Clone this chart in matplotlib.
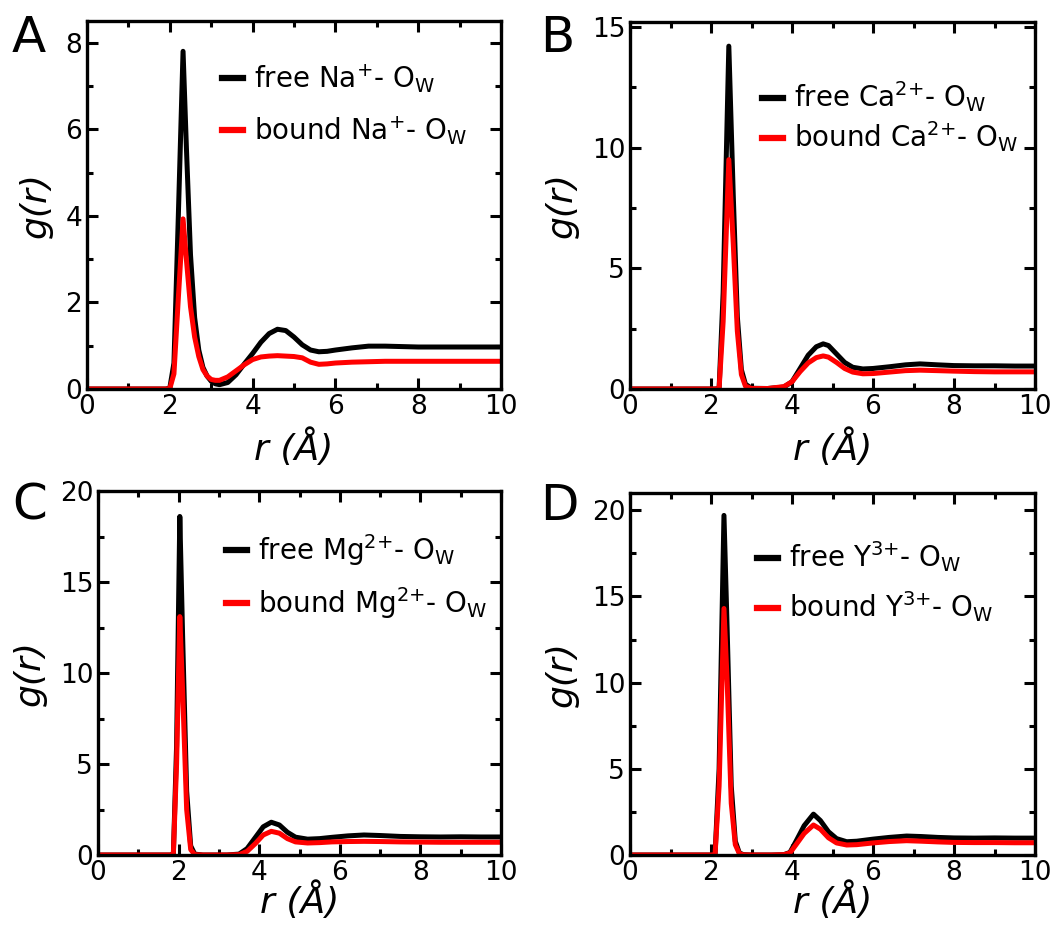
import matplotlib
matplotlib.use("Agg")
import matplotlib.pyplot as plt
from matplotlib.ticker import MultipleLocator

plt.rcParams['font.family'] = ['DejaVu Sans']
plt.rcParams['mathtext.default'] = 'regular'

# ---------------- data ----------------
# Panel A: Na+
rA = [0.0, 1.9, 2.0, 2.1, 2.2, 2.32, 2.4, 2.5, 2.6, 2.7, 2.8, 2.9, 3.0, 3.1, 3.2, 3.4, 3.6, 3.8,
      4.0, 4.2, 4.4, 4.6, 4.8, 5.0, 5.2, 5.4, 5.6, 5.8, 6.0, 6.4, 6.8, 7.2, 7.6, 8.0, 8.5, 9.0, 9.5, 10.0]
gA_free = [0.0, 0.0, 0.02, 0.6, 3.8, 7.8, 5.6, 3.1, 1.65, 0.9, 0.5, 0.3, 0.18, 0.12, 0.1, 0.15, 0.33, 0.58,
           0.82, 1.08, 1.28, 1.38, 1.35, 1.2, 1.02, 0.9, 0.86, 0.87, 0.9, 0.95, 0.99, 0.99, 0.98, 0.97, 0.97, 0.97, 0.97, 0.97]
gA_bound = [0.0, 0.0, 0.01, 0.35, 2.0, 3.93, 3.0, 1.9, 1.2, 0.75, 0.45, 0.3, 0.22, 0.2, 0.2, 0.28, 0.42, 0.56,
            0.68, 0.74, 0.76, 0.77, 0.76, 0.75, 0.72, 0.62, 0.57, 0.58, 0.6, 0.62, 0.63, 0.64, 0.64, 0.64, 0.64, 0.64, 0.64, 0.64]

# Panel B: Ca2+
rB = [0.0, 2.1, 2.2, 2.3, 2.44, 2.55, 2.65, 2.75, 2.85, 3.0, 3.4, 3.8, 4.0, 4.2, 4.4, 4.6, 4.77, 4.9,
      5.1, 5.3, 5.5, 5.75, 6.0, 6.4, 6.8, 7.16, 7.6, 8.0, 8.5, 9.0, 9.5, 10.0]
gB_free = [0.0, 0.0, 0.02, 4.0, 14.2, 8.0, 3.0, 0.8, 0.2, 0.03, 0.02, 0.08, 0.3, 0.85, 1.4, 1.75, 1.87, 1.8,
           1.45, 1.1, 0.9, 0.83, 0.85, 0.92, 1.0, 1.04, 1.0, 0.97, 0.96, 0.96, 0.95, 0.95]
gB_bound = [0.0, 0.0, 0.02, 2.8, 9.5, 6.0, 2.4, 0.6, 0.12, 0.02, 0.02, 0.1, 0.3, 0.72, 1.08, 1.3, 1.37, 1.32,
            1.1, 0.85, 0.7, 0.63, 0.64, 0.7, 0.76, 0.78, 0.76, 0.74, 0.72, 0.71, 0.71, 0.71]

# Panel C: Mg2+
rC = [0.0, 1.8, 1.87, 1.95, 2.03, 2.1, 2.2, 2.3, 2.4, 2.6, 3.2, 3.5, 3.7, 3.9, 4.1, 4.3, 4.5, 4.7,
      4.9, 5.2, 5.5, 5.8, 6.2, 6.6, 7.0, 7.5, 8.0, 8.5, 9.0, 9.5, 10.0]
gC_free = [0.0, 0.0, 0.05, 6.0, 18.6, 12.0, 3.5, 0.5, 0.05, 0.0, 0.0, 0.05, 0.35, 0.95, 1.55, 1.8, 1.65, 1.25,
           0.98, 0.87, 0.9, 0.97, 1.05, 1.1, 1.07, 1.02, 1.0, 0.99, 1.0, 0.99, 0.99]
gC_bound = [0.0, 0.0, 0.05, 5.0, 13.1, 9.0, 2.5, 0.3, 0.02, 0.0, 0.0, 0.02, 0.2, 0.62, 1.1, 1.3, 1.2, 0.9,
            0.72, 0.66, 0.68, 0.72, 0.74, 0.75, 0.74, 0.72, 0.71, 0.7, 0.7, 0.7, 0.7]

# Panel D: Y3+
rD = [0.0, 2.0, 2.1, 2.2, 2.32, 2.4, 2.5, 2.6, 2.7, 2.8, 3.0, 3.5, 3.8, 3.95, 4.1, 4.3, 4.53, 4.7,
      4.9, 5.1, 5.35, 5.6, 6.0, 6.4, 6.83, 7.2, 7.6, 8.0, 8.5, 9.0, 9.5, 10.0]
gD_free = [0.0, 0.0, 0.02, 5.0, 19.7, 13.0, 4.0, 0.8, 0.12, 0.02, 0.0, 0.0, 0.02, 0.15, 0.8, 1.7, 2.37, 2.0,
           1.35, 0.95, 0.77, 0.8, 0.92, 1.02, 1.1, 1.07, 1.02, 0.99, 0.98, 0.99, 0.98, 0.98]
gD_bound = [0.0, 0.0, 0.02, 4.0, 14.3, 10.0, 3.0, 0.6, 0.08, 0.01, 0.0, 0.0, 0.02, 0.12, 0.6, 1.25, 1.74, 1.5,
            1.0, 0.7, 0.58, 0.6, 0.7, 0.78, 0.83, 0.8, 0.76, 0.73, 0.72, 0.72, 0.71, 0.71]

panel_letters = ['A', 'B', 'C', 'D']
ion_labels = ['Na$^{{+}}$', 'Ca$^{2{+}}$', 'Mg$^{2{+}}$', 'Y$^{3{+}}$']

W, H = 1063, 930
layout = [
    dict(ymax=8.5, ymajor=2, yminor=1, box=(87, 21, 501, 389), leg=(222, 104.5), lspace=0.7,
         letter=(12, 52), xpad=6),
    dict(ymax=15.2, ymajor=5, yminor=2.5, box=(630, 22, 1035, 389), leg=(762, 117), lspace=0.2,
         letter=(540, 52), xpad=6),
    dict(ymax=20, ymajor=5, yminor=2.5, box=(98, 491, 501, 855), leg=(226, 576.5), lspace=0.62,
         letter=(12, 520), xpad=-3),
    dict(ymax=21, ymajor=5, yminor=2.5, box=(630, 493, 1035, 855), leg=(757, 582), lspace=0.55,
         letter=(540, 520), xpad=-3),
]
series = [(rA, gA_free, gA_bound), (rB, gB_free, gB_bound), (rC, gC_free, gC_bound), (rD, gD_free, gD_bound)]

fig = plt.figure(figsize=(W / 100, H / 100), dpi=100)

for letter, ion, (r, gfree, gbound), p in zip(panel_letters, ion_labels, series, layout):
    x0, y0, x1, y1 = p['box']
    ax = fig.add_axes([x0 / W, 1 - y1 / H, (x1 - x0) / W, (y1 - y0) / H])
    ax.plot(r, gfree, color='black', lw=3.6, label='free ' + ion + '- O$_{W}$')
    ax.plot(r, gbound, color='#ff0000', lw=3.6, label='bound ' + ion + '- O$_{W}$')
    ax.set_xlim(0, 10)
    ax.set_ylim(0, p['ymax'])
    ax.xaxis.set_major_locator(MultipleLocator(2))
    ax.xaxis.set_minor_locator(MultipleLocator(1))
    ax.yaxis.set_major_locator(MultipleLocator(p['ymajor']))
    ax.yaxis.set_minor_locator(MultipleLocator(p['yminor']))
    ax.tick_params(which='both', direction='in', top=True, right=True, labelsize=19, width=2.2)
    ax.tick_params(which='major', length=8)
    ax.tick_params(which='minor', length=4.5)
    for s in ax.spines.values():
        s.set_linewidth(2.4)
    ax.set_xlabel('r (Å)', fontsize=26, style='italic', labelpad=p['xpad'])
    ax.set_ylabel('g(r)', fontsize=26, style='italic', labelpad=9)
    lx, ly = p['leg']
    leg = ax.legend(loc='center left', frameon=False, fontsize=20, handlelength=0.75,
                    handletextpad=0.4, labelspacing=p['lspace'], borderaxespad=0, borderpad=0,
                    bbox_to_anchor=((lx - x0) / (x1 - x0), (y1 - ly) / (y1 - y0)))
    for line in leg.get_lines():
        line.set_linewidth(4.5)
    tx, ty = p['letter']
    fig.text(tx / W, 1 - ty / H, letter, fontsize=36, ha='left', va='baseline')

fig.savefig('out.png', dpi=100)
